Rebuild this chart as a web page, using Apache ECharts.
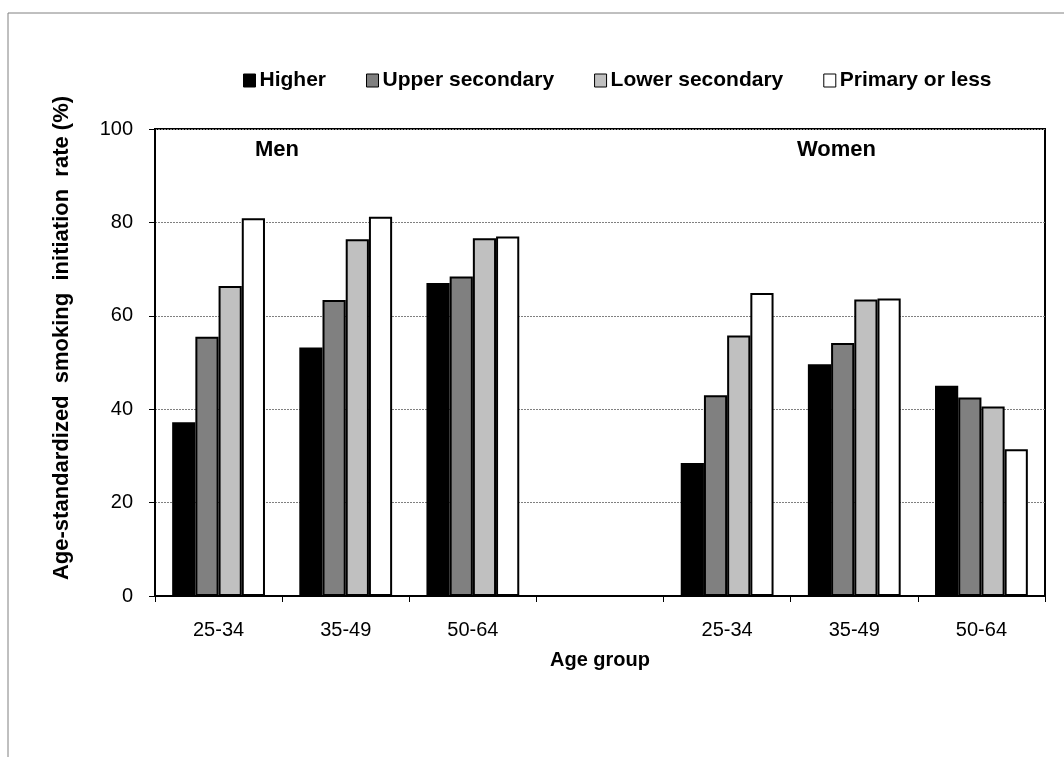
<!DOCTYPE html>
<html><head><meta charset="utf-8">
<script src="https://cdn.jsdelivr.net/npm/echarts@6/dist/echarts.min.js"></script>
<style>html,body{margin:0;padding:0;background:#fff}#c{width:1064px;height:757px}</style>
</head><body><div id="c"></div>
<script>
const categories = ['25-34', '35-49', '50-64', '', '25-34', '35-49', '50-64'];
const seriesNames = ['Higher', 'Upper secondary', 'Lower secondary', 'Primary or less'];
const higher = [37.2, 53.2, 67.0, null, 28.5, 49.6, 45.0];
const upperSecondary = [55.5, 63.4, 68.4, null, 43.0, 54.2, 42.5];
const lowerSecondary = [66.4, 76.4, 76.6, null, 55.8, 63.5, 40.6];
const primaryOrLess = [80.9, 81.2, 77.0, null, 64.9, 63.7, 31.4];
const yTicks = [0, 20, 40, 60, 80, 100];
const colors = ['#000000', '#808080', '#C0C0C0', '#FFFFFF'];
const values = [higher, upperSecondary, lowerSecondary, primaryOrLess];

const font = 'Liberation Sans, Arial, sans-serif';
const chart = echarts.init(document.getElementById('c'), null, {renderer: 'canvas'});
chart.setOption({
  animation: false,
  backgroundColor: '#fff',
  textStyle: {fontFamily: font},
  legend: {
    top: 70, left: 243, padding: 0,
    itemWidth: 12, itemHeight: 13, itemGap: 40,
    icon: 'rect',
    textStyle: {fontFamily: font, fontSize: 21, fontWeight: 'bold', color: '#000', padding: [0, 0, 0, -1]},
    data: seriesNames.map((n, i) => ({name: n, itemStyle: {color: colors[i], borderColor: '#000', borderWidth: 1}}))
  },
  grid: {left: 155, right: 19, top: 129, bottom: 161, show: true, borderColor: '#000', borderWidth: 2, backgroundColor: 'transparent'},
  xAxis: {
    type: 'category', data: categories,
    name: 'Age group', nameLocation: 'middle', nameGap: 54,
    nameTextStyle: {fontFamily: font, fontSize: 20, fontWeight: 'bold', color: '#000'},
    axisLine: {lineStyle: {color: '#000', width: 2}},
    axisTick: {show: true, length: 6, lineStyle: {color: '#000'}},
    axisLabel: {fontFamily: font, fontSize: 20, color: '#000', margin: 24}
  },
  yAxis: {
    type: 'value', min: 0, max: 100, interval: 20,
    axisLine: {show: true, lineStyle: {color: '#000', width: 2}},
    axisTick: {show: true, length: 6, inside: false, lineStyle: {color: '#000'}},
    axisLabel: {fontFamily: font, fontSize: 20, color: '#000', margin: 22,
      formatter: v => yTicks.includes(v) ? String(v) : ''},
    splitLine: {show: true, lineStyle: {color: '#808080', type: [2, 1], width: 1}}
  },
  series: seriesNames.map((n, i) => ({
    name: n, type: 'bar', data: values[i],
    barGap: '0%', barCategoryGap: '27%',
    itemStyle: {color: colors[i], borderColor: '#000', borderWidth: 2}
  })),
  graphic: [
    {type: 'text', left: 255, top: 139, style: {text: 'Men', fontFamily: font, fontSize: 22, fontWeight: 'bold', fill: '#000'}},
    {type: 'text', left: 797, top: 139, style: {text: 'Women', fontFamily: font, fontSize: 22, fontWeight: 'bold', fill: '#000'}},
    {type: 'text', x: 62, y: 338, rotation: Math.PI / 2,
      style: {text: 'Age-standardized  smoking  initiation  rate (%)', fontFamily: font, fontSize: 22, fontWeight: 'bold', fill: '#000', align: 'center', verticalAlign: 'middle'}},
    {type: 'line', shape: {x1: 8, y1: 13, x2: 1064, y2: 13}, style: {stroke: '#808080', lineWidth: 1}},
    {type: 'line', shape: {x1: 8, y1: 13, x2: 8, y2: 757}, style: {stroke: '#808080', lineWidth: 1}}
  ]
});
</script>
</body></html>
